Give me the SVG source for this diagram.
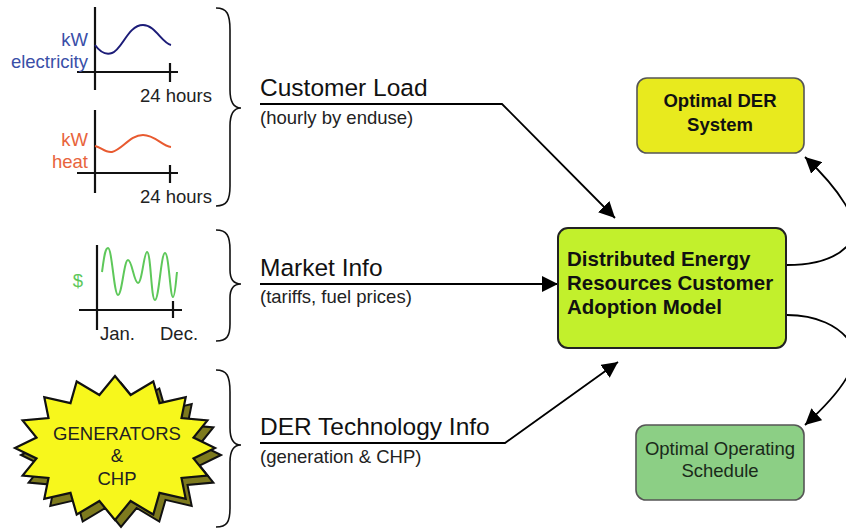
<svg xmlns="http://www.w3.org/2000/svg" width="846" height="529" viewBox="0 0 846 529">
<defs>
<marker id="ah" viewBox="0 0 10 10" refX="10" refY="5" markerWidth="16" markerHeight="16" markerUnits="userSpaceOnUse" orient="auto">
<path d="M0,0 L10,5 L0,10 z" fill="#000"/>
</marker>
<style>
.ax{stroke:#111;stroke-width:2.2;fill:none}
.br{stroke:#111;stroke-width:1.6;fill:none}
.t{font-family:"Liberation Sans",Arial,sans-serif}
.lbl{font-size:24.5px;fill:#111}
.sub{font-size:18.5px;fill:#222}
.ct{font-size:18.5px}
.conn{stroke:#000;stroke-width:1.8;fill:none}
</style>
</defs>
<rect width="846" height="529" fill="#fff"/>

<g id="chart-electricity">
<line class="ax" x1="95" y1="7" x2="95" y2="90"/>
<line class="ax" x1="77" y1="72" x2="178" y2="72"/>
<line class="ax" x1="170" y1="63" x2="170" y2="82"/>
<path d="M95,45 C100,52 106,55 112,53 C122,50 128,25 143,25 C155,25 162,43 171,45" stroke="#1c1c78" stroke-width="2" fill="none"/>
<text class="t ct" x="88" y="46" fill="#3a4fa8" text-anchor="end">kW</text>
<text class="t ct" x="88" y="68" fill="#3a4fa8" text-anchor="end">electricity</text>
<text class="t ct" x="140" y="102" fill="#222">24 hours</text>
</g>

<g id="chart-heat">
<line class="ax" x1="95" y1="110" x2="95" y2="193"/>
<line class="ax" x1="77" y1="173" x2="178" y2="173"/>
<line class="ax" x1="170" y1="165" x2="170" y2="183"/>
<path d="M95,146 C101,147 105,153 112,152 C122,150 130,135 143,135 C155,135 162,146 171,147" stroke="#e85a30" stroke-width="2" fill="none"/>
<text class="t ct" x="88" y="146" fill="#e8643c" text-anchor="end">kW</text>
<text class="t ct" x="88" y="168" fill="#e8643c" text-anchor="end">heat</text>
<text class="t ct" x="140" y="203" fill="#222">24 hours</text>
</g>

<g id="chart-market">
<line class="ax" x1="97" y1="245" x2="97" y2="330"/>
<line class="ax" x1="79" y1="310" x2="182" y2="310"/>
<line class="ax" x1="173" y1="301" x2="173" y2="318"/>
<path d="M102,272 C104,258 105,248 108,248 C112,248 114,295 118,295 C122,295 124,260 128,260 C132,260 134,283 138,283 C142,283 144,252 147,252 C151,252 151,300 155,300 C159,300 161,253 165,253 C169,253 170,297 173,297 C175,297 176,280 177,272" stroke="#5ec85a" stroke-width="2" fill="none"/>
<text class="t ct" x="78" y="287" fill="#5ec85a" text-anchor="middle">$</text>
<text class="t ct" x="100" y="340" fill="#222">Jan.</text>
<text class="t ct" x="160" y="340" fill="#222">Dec.</text>
</g>

<g id="generators">
<polygon transform="translate(6,7)" fill="#7d7a1e" stroke="#111" stroke-width="2" points="215,448 193.5,458.5 207.4,475.6 181.5,478 185.7,498.9 159.5,492.9 153.3,514.5 130.6,501 115,520 99.4,501 76.7,514.5 70.5,492.9 44.3,498.9 48.5,478 22.6,475.6 36.5,458.5 15,448 36.5,437.5 22.6,420.4 48.5,418 44.3,397.1 70.5,403.1 76.7,381.5 99.4,395 115,376 130.6,395 153.3,381.5 159.5,403.1 185.7,397.1 181.5,418 207.4,420.4 193.5,437.5"/>
<polygon fill="#f7f71c" stroke="#111" stroke-width="2.2" points="215,448 193.5,458.5 207.4,475.6 181.5,478 185.7,498.9 159.5,492.9 153.3,514.5 130.6,501 115,520 99.4,501 76.7,514.5 70.5,492.9 44.3,498.9 48.5,478 22.6,475.6 36.5,458.5 15,448 36.5,437.5 22.6,420.4 48.5,418 44.3,397.1 70.5,403.1 76.7,381.5 99.4,395 115,376 130.6,395 153.3,381.5 159.5,403.1 185.7,397.1 181.5,418 207.4,420.4 193.5,437.5"/>
<text class="t ct" x="117" y="440" fill="#222" text-anchor="middle">GENERATORS</text>
<text class="t ct" x="117" y="462" fill="#222" text-anchor="middle">&amp;</text>
<text class="t ct" x="117" y="485" fill="#222" text-anchor="middle">CHP</text>
</g>

<g id="braces">
<path class="br" d="M216,8 C227,8 230,14 230,30 L230,90 C230,102 233,108 241,108 C233,108 230,114 230,126 L230,186 C230,200 227,206 216,206"/>
<path class="br" d="M216,230 C227,230 230,236 230,250 L230,270 C230,279 233,284 241,284 C233,284 230,289 230,298 L230,324 C230,336 227,341 216,341"/>
<path class="br" d="M216,370 C227,370 230,376 230,392 L230,428 C230,439 233,445 241,445 C233,445 230,451 230,462 L230,508 C230,522 227,527 216,527"/>
</g>

<g id="labels">
<text class="t lbl" x="260" y="96">Customer Load</text>
<text class="t sub" x="260" y="124">(hourly by enduse)</text>
<text class="t lbl" x="260" y="276">Market Info</text>
<text class="t sub" x="260" y="303">(tariffs, fuel prices)</text>
<text class="t lbl" x="260" y="435">DER Technology Info</text>
<text class="t sub" x="260" y="463">(generation &amp; CHP)</text>
</g>

<g id="connectors">
<polyline class="conn" points="260,104 502,104 615,218" marker-end="url(#ah)"/>
<line class="conn" x1="260" y1="284" x2="558" y2="284" marker-end="url(#ah)"/>
<polyline class="conn" points="260,443 505,443 618,362" marker-end="url(#ah)"/>
<path class="conn" d="M787,265 C815,265 840,258 852,240 C862,222 838,188 805,157" marker-end="url(#ah)"/>
<path class="conn" d="M787,315 C815,315 840,325 852,345 C862,365 838,395 805,425" marker-end="url(#ah)"/>
</g>

<g id="cam-model">
<rect x="558" y="228" width="228" height="120" rx="10" fill="#c2f02c" stroke="#222" stroke-width="2"/>
<text class="t" x="567" y="266" font-size="20.5" font-weight="bold" fill="#111">Distributed Energy</text>
<text class="t" x="567" y="290" font-size="20.5" font-weight="bold" fill="#111">Resources Customer</text>
<text class="t" x="567" y="314" font-size="20.5" font-weight="bold" fill="#111">Adoption Model</text>
</g>

<g id="optimal-der">
<rect x="637" y="78" width="167" height="75" rx="10" fill="#e8ea1e" stroke="#555" stroke-width="1.6"/>
<text class="t" x="720" y="107" font-size="18.5" font-weight="bold" fill="#111" text-anchor="middle">Optimal DER</text>
<text class="t" x="720" y="131" font-size="18.5" font-weight="bold" fill="#111" text-anchor="middle">System</text>
</g>

<g id="optimal-schedule">
<rect x="636" y="425" width="168" height="75" rx="10" fill="#8ccf85" stroke="#555" stroke-width="1.6"/>
<text class="t" x="720" y="455" font-size="18.5" fill="#1a2a1a" text-anchor="middle">Optimal Operating</text>
<text class="t" x="720" y="477" font-size="18.5" fill="#1a2a1a" text-anchor="middle">Schedule</text>
</g>
</svg>
